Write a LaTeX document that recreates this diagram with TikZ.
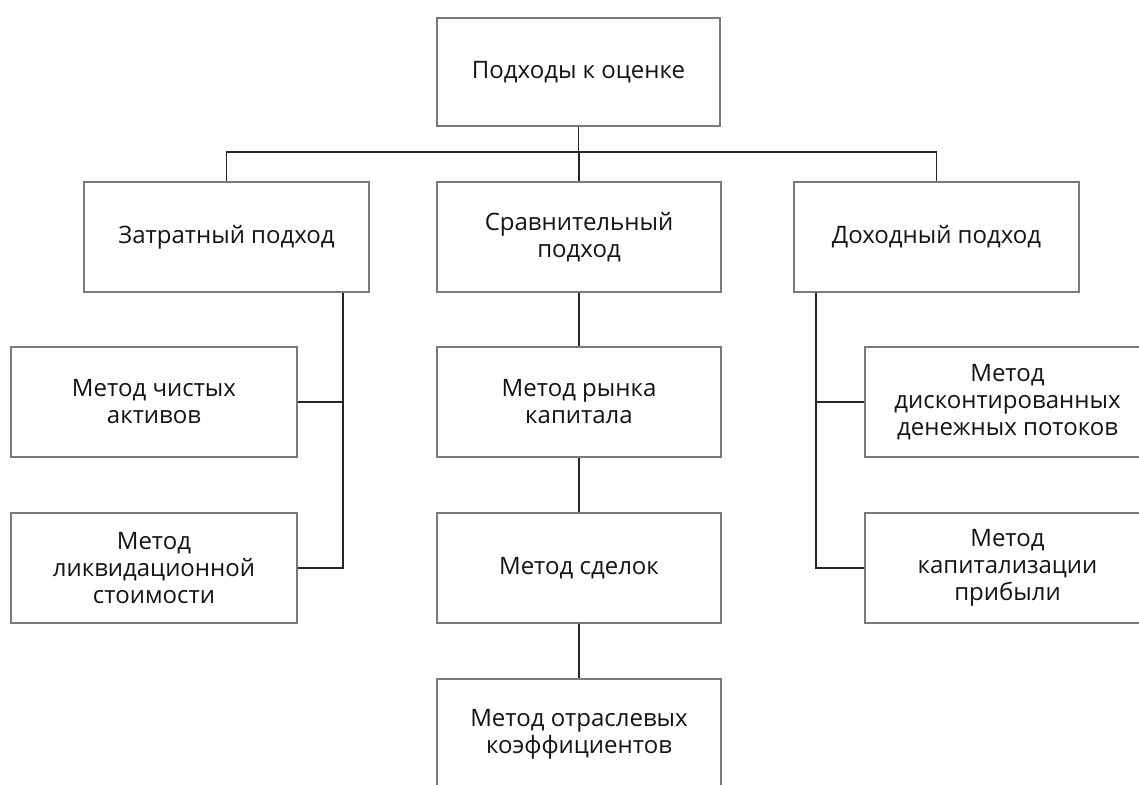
\documentclass[tikz,border=0pt]{standalone}
\usepackage{fontspec}
\setmainfont{Open Sans}
\definecolor{boxgray}{HTML}{7A7A7A}
\definecolor{txt}{HTML}{141414}
\begin{document}
\begin{tikzpicture}[x=1pt,y=-1pt,
  box/.style={draw=boxgray, line width=1.3pt, minimum width=284pt, minimum height=110pt,
    inner sep=0pt, align=center, text=txt, font=\fontsize{24}{27}\selectfont},
  conn/.style={draw=black!85, line width=1.5pt}]
\useasboundingbox (0,0) rectangle (1139,784);
\clip (0,0) rectangle (1139,784);
\fill[white] (0,0) rectangle (1139,784);

\node[box, minimum width=283pt, minimum height=108pt] (root) at (578.5,72) {Подходы к оценке};
\node[box, minimum width=285pt] (zat) at (226.5,237) {Затратный подход};
\node[box] (srav) at (579,237) {Сравнительный\\подход};
\node[box, minimum width=285pt] (doh) at (936.5,237) {Доходный подход};

\node[box, minimum width=286pt] (chist) at (154,402) {Метод чистых\\активов};
\node[box, minimum width=286pt] (likv) at (154,568) {Метод\\ликвидационной\\стоимости};

\node[box] (rynok) at (579,402) {Метод рынка\\капитала};
\node[box] (sdel) at (579,568) {Метод сделок};
\node[box] (otr) at (579,734) {Метод отраслевых\\коэффициентов};

\node[box, minimum width=285pt] (disk) at (1007.5,402) {Метод\\дисконтированных\\денежных потоков};
\node[box, minimum width=285pt] (kap) at (1007.5,568) {Метод\\капитализации\\прибыли};

\coordinate (bus) at (0,152);
\coordinate (lx) at (343,0);
\coordinate (rx) at (816,0);

\draw[conn] (root.south) -- (root.south |- bus);
\draw[conn] (zat.north) -- (zat.north |- bus) -- (doh.north |- bus) -- (doh.north);
\draw[conn] (srav.north) -- (srav.north |- bus);

\draw[conn] (zat.south -| lx) -- (likv.east -| lx) -- (likv.east);
\draw[conn] (chist.east) -- (chist.east -| lx);

\draw[conn] (doh.south -| rx) -- (kap.west -| rx) -- (kap.west);
\draw[conn] (disk.west) -- (disk.west -| rx);

\draw[conn] (srav) -- (rynok);
\draw[conn] (rynok) -- (sdel);
\draw[conn] (sdel) -- (otr);
\end{tikzpicture}
\end{document}
